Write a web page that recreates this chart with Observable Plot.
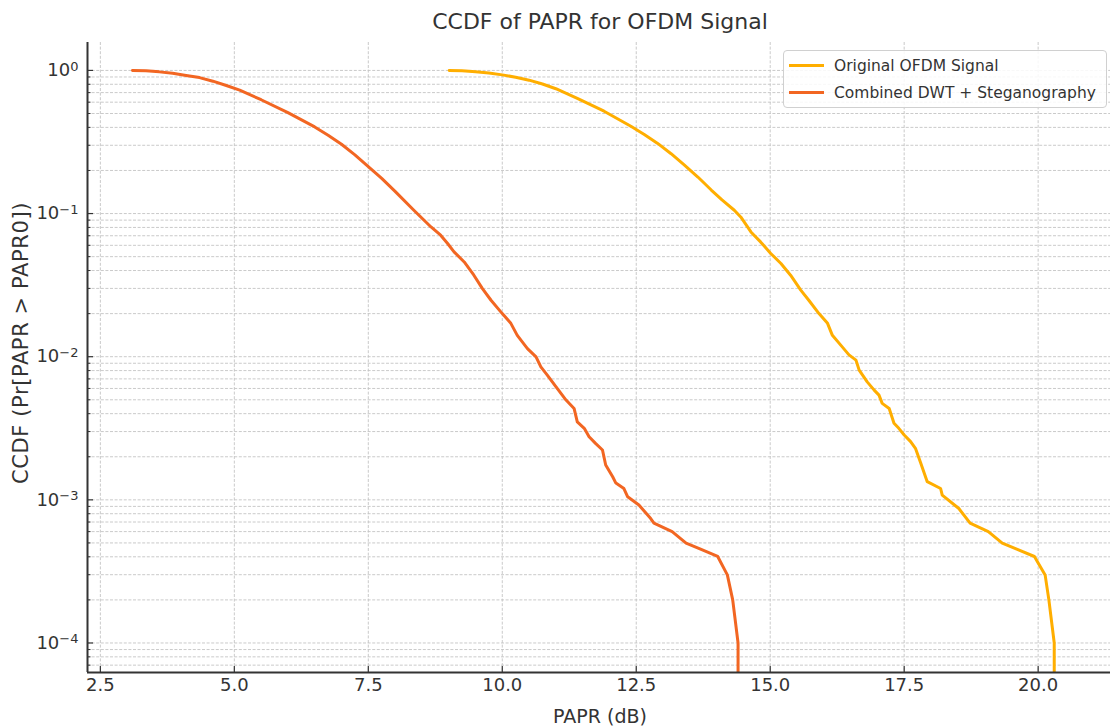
<!DOCTYPE html>
<html>
<head>
<meta charset="utf-8">
<script src="https://cdn.jsdelivr.net/npm/d3@7"></script>
<script src="https://cdn.jsdelivr.net/npm/@observablehq/plot@0.6"></script>
<style>
  html, body { margin: 0; padding: 0; background: #fff; overflow: hidden; }
  body { width: 1110px; height: 728px; position: relative; font-family: "DejaVu Sans", sans-serif; color: #333; }
  #title { position: absolute; left: 87px; width: 1026px; top: 0; height: 44px; line-height: 44px; text-align: center; font-size: 22px; }
  #chart { position: absolute; left: 0; top: 42px; }
  #xlabel { position: absolute; left: 87px; width: 1026px; top: 704px; line-height: 24px; text-align: center; font-size: 19px; }
  #ylabel { position: absolute; left: 21px; top: 343px; transform: translate(-50%, -50%) rotate(-90deg); white-space: nowrap; font-size: 21px; letter-spacing: 0.6px; }
  #legend { position: absolute; left: 783px; top: 50px; width: 324px; height: 58px; border: 1px solid #d0d0d0; border-radius: 4px; background: rgba(255,255,255,0.85); box-sizing: border-box; }
  .row { position: absolute; left: 0; height: 20px; width: 100%; }
  .sw { position: absolute; left: 5px; top: 8px; width: 35px; height: 3px; }
  .lt { position: absolute; left: 50px; top: 0; line-height: 20px; font-size: 15.5px; white-space: nowrap; }
</style>
</head>
<body>
<div id="title">CCDF of PAPR for OFDM Signal</div>
<div id="chart"></div>
<div id="xlabel">PAPR (dB)</div>
<div id="ylabel">CCDF (Pr[PAPR &gt; PAPR0])</div>
<div id="legend"></div>
<script>
// ---- data ----
const seriesNames = ["Original OFDM Signal", "Combined DWT + Steganography"];
const seriesColors = ["#FFAE00", "#F26622"];

const origPapr = [9.01, 9.25, 9.50, 9.75, 10.00, 10.25, 10.50, 10.75, 11.00, 11.40, 11.90, 12.40, 12.65, 12.90, 13.15, 13.40, 13.65, 13.90, 14.10, 14.33, 14.45, 14.64, 14.82, 15.01, 15.20, 15.38, 15.57, 15.72, 15.91, 16.07, 16.16, 16.32, 16.47, 16.60, 16.66, 16.81, 16.94, 17.03, 17.09, 17.22, 17.31, 17.40, 17.50, 17.62, 17.71, 17.81, 17.93, 18.18, 18.21, 18.52, 18.73, 19.07, 19.33, 19.60, 19.93, 20.13, 20.20, 20.30, 20.30];
const origCcdf = [1.0, 0.993, 0.979, 0.959, 0.931, 0.897, 0.855, 0.804, 0.745, 0.638, 0.519, 0.407, 0.357, 0.309, 0.262, 0.218, 0.180, 0.146, 0.1245, 0.1055, 0.0947, 0.0744, 0.0634, 0.0526, 0.0448, 0.0371, 0.0292, 0.0248, 0.0200, 0.0171, 0.0141, 0.0120, 0.0103, 0.00946, 0.00806, 0.00667, 0.00584, 0.00539, 0.00472, 0.00435, 0.00343, 0.00316, 0.00284, 0.00255, 0.00229, 0.00180, 0.00134, 0.00120, 0.00108, 0.00087, 0.000687, 0.0006, 0.000498, 0.000452, 0.000402, 0.000299, 0.0002, 0.0001, 0.000001];

const combPapr = [3.10, 3.35, 3.60, 3.85, 4.10, 4.35, 4.60, 4.85, 5.10, 5.50, 6.00, 6.50, 6.75, 7.00, 7.25, 7.50, 7.75, 8.00, 8.35, 8.67, 8.85, 8.98, 9.10, 9.29, 9.47, 9.63, 9.79, 10.00, 10.16, 10.28, 10.47, 10.63, 10.72, 10.84, 11.00, 11.19, 11.34, 11.40, 11.53, 11.62, 11.74, 11.87, 11.93, 12.06, 12.12, 12.27, 12.34, 12.55, 12.77, 12.83, 13.17, 13.43, 13.70, 14.02, 14.20, 14.30, 14.40, 14.40];
const combCcdf = [1.0, 0.993, 0.977, 0.955, 0.923, 0.891, 0.841, 0.785, 0.728, 0.624, 0.507, 0.403, 0.353, 0.305, 0.257, 0.213, 0.176, 0.143, 0.1055, 0.0806, 0.0706, 0.0618, 0.0540, 0.0459, 0.0371, 0.0299, 0.0248, 0.0200, 0.0171, 0.0141, 0.0114, 0.00998, 0.00849, 0.00744, 0.00617, 0.00498, 0.00435, 0.00351, 0.00316, 0.00276, 0.00248, 0.00223, 0.00175, 0.00145, 0.00131, 0.00120, 0.00105, 0.00092, 0.00074, 0.000687, 0.0006, 0.000498, 0.000452, 0.000402, 0.000299, 0.0002, 0.0001, 0.000001];

const xTicks = [2.5, 5.0, 7.5, 10.0, 12.5, 15.0, 17.5, 20.0];
const xTickLabels = ["2.5", "5.0", "7.5", "10.0", "12.5", "15.0", "17.5", "20.0"];
const yTicks = [1, 0.1, 0.01, 0.001, 0.0001];
const yTickBase = "10";
const yTickExps = ["0", "\u22121", "\u22122", "\u22123", "\u22124"];
const xDomain = [2.26, 21.35];
const yDomain = [6.22e-5, 1.567];

// ---- build table ----
const rows = [];
origPapr.forEach((p, i) => rows.push({series: seriesNames[0], papr: p, ccdf: origCcdf[i]}));
combPapr.forEach((p, i) => rows.push({series: seriesNames[1], papr: p, ccdf: combCcdf[i]}));

const yMinor = [];
for (let e = -5; e <= 0; e++) for (let m = 2; m <= 9; m++) {
  const v = +(m * Math.pow(10, e)).toPrecision(3);
  if (v >= yDomain[0] && v <= yDomain[1]) yMinor.push(v);
}
const yGrid = yTicks.concat(yMinor);

const gridStyle = {stroke: "#c4c4c4", strokeOpacity: 1, strokeWidth: 0.9, strokeDasharray: "3,1.6"};

const chart = Plot.plot({
  width: 1110, height: 686,
  marginTop: 0, marginLeft: 87, marginRight: 0, marginBottom: 56,
  style: {fontFamily: "'DejaVu Sans', sans-serif", fontSize: "18px", color: "#333", background: "transparent", overflow: "visible"},
  x: {domain: xDomain},
  y: {type: "log", domain: yDomain},
  color: {domain: seriesNames, range: seriesColors},
  marks: [
    Plot.gridY(yGrid, gridStyle),
    Plot.gridX(xTicks, gridStyle),
    Plot.line(rows, {x: "papr", y: "ccdf", z: "series", stroke: "series", strokeWidth: 3, clip: true, strokeLinejoin: "round"}),
    Plot.axisY(yMinor, {tickSize: -3.5, tickFormat: () => "", label: null, stroke: "#333", strokeWidth: 1}),
    Plot.axisY(yTicks, {tickSize: -6, tickPadding: 15, tickFormat: d => "e" + yTicks.indexOf(d), label: null, stroke: "#333", strokeWidth: 1.2, fill: "#333", fontSize: 18}),
    Plot.axisX(xTicks, {tickSize: -6, tickPadding: 12, tickFormat: d => xTickLabels[xTicks.indexOf(d)], label: null, stroke: "#333", strokeWidth: 1.2, fill: "#333", fontSize: 18}),
    Plot.ruleX([xDomain[0]], {stroke: "#333", strokeWidth: 2}),
    Plot.ruleY([yDomain[0]], {stroke: "#333", strokeWidth: 2})
  ]
});
document.getElementById("chart").appendChild(chart);

// y tick labels as 10 with a raised exponent
const NS = "http://www.w3.org/2000/svg";
chart.querySelectorAll("text").forEach(t => {
  const m = /^e(\d)$/.exec(t.textContent);
  if (!m) return;
  const i = +m[1];
  t.textContent = "";
  const b = document.createElementNS(NS, "tspan");
  b.textContent = yTickBase;
  const s = document.createElementNS(NS, "tspan");
  s.setAttribute("dy", "-0.42em");
  s.setAttribute("font-size", "13px");
  s.textContent = yTickExps[i];
  t.appendChild(b); t.appendChild(s);
});

// ---- legend ----
const legend = document.getElementById("legend");
seriesNames.forEach((name, i) => {
  const row = document.createElement("div");
  row.className = "row";
  row.style.top = (5 + i * 27) + "px";
  const sw = document.createElement("div");
  sw.className = "sw";
  sw.style.background = seriesColors[i];
  const t = document.createElement("div");
  t.className = "lt";
  t.textContent = name;
  row.appendChild(sw); row.appendChild(t);
  legend.appendChild(row);
});
</script>
</body>
</html>
